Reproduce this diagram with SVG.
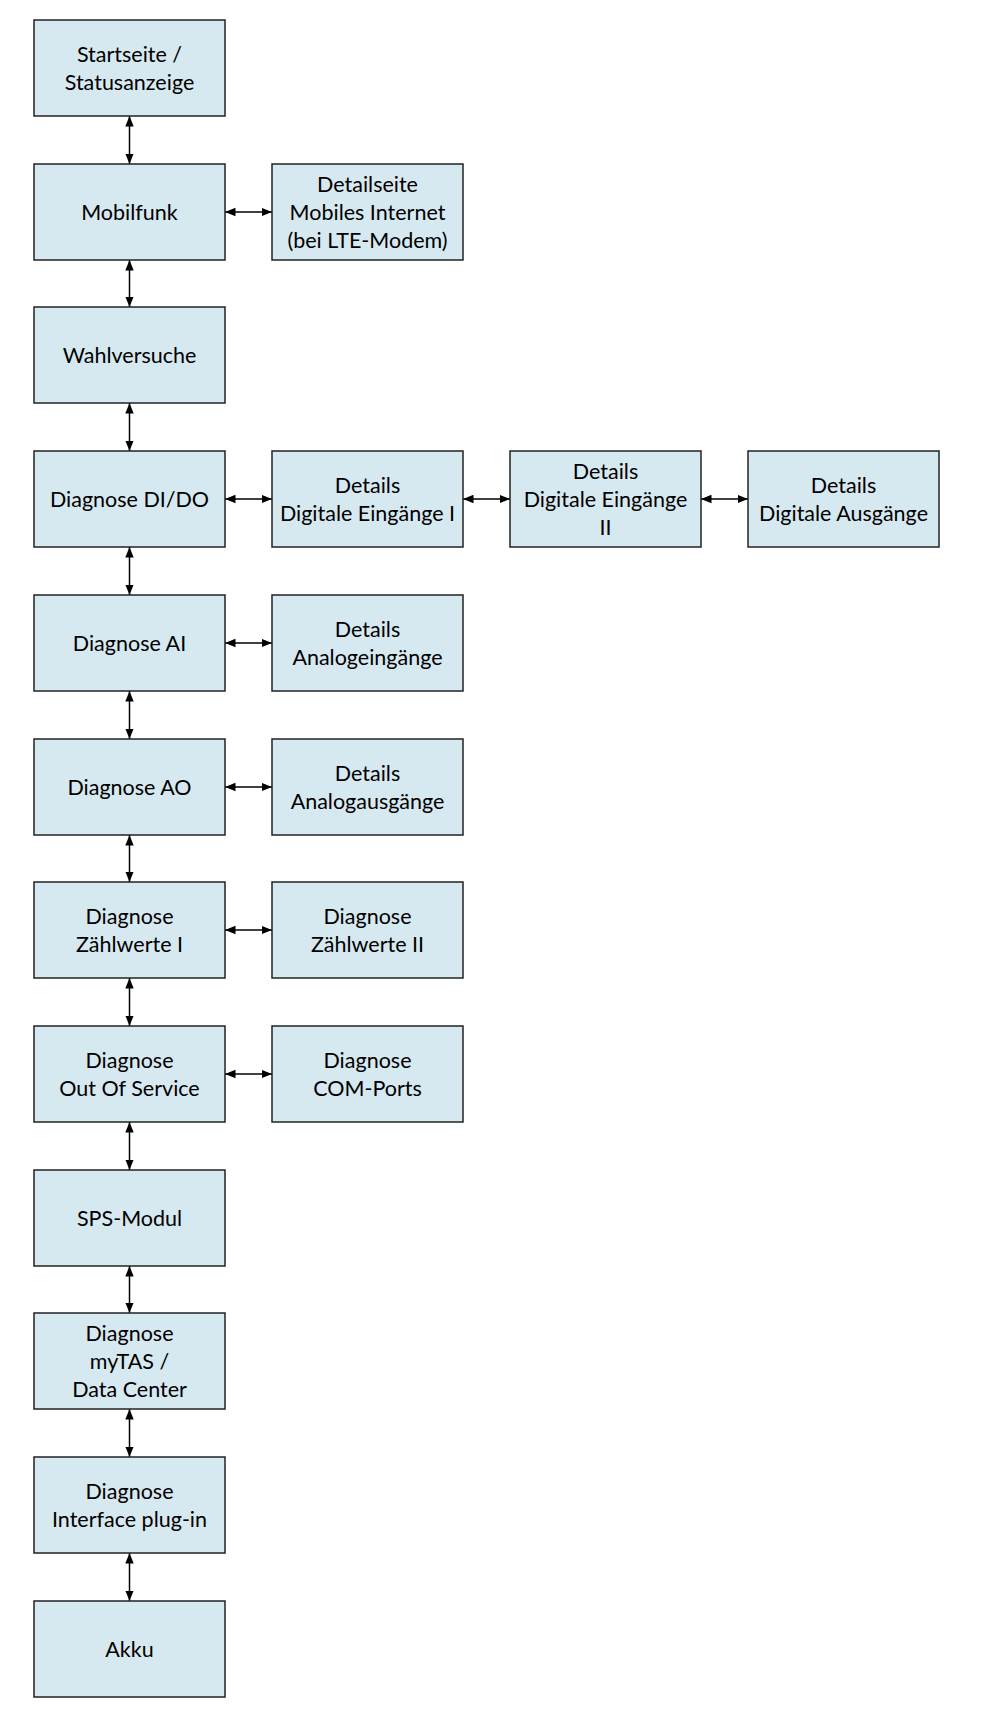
<svg xmlns="http://www.w3.org/2000/svg" width="1004" height="1718" viewBox="0 0 1004 1718">
<style>
.n rect{fill:#D7E9F0;stroke:#222;stroke-width:1.5}
.n text{font-family:Lato,"Liberation Sans",sans-serif;font-size:21.5px;fill:#000;text-anchor:middle}
.c line{stroke:#000;stroke-width:1.5;marker-start:url(#a);marker-end:url(#a)}
</style>
<defs>
<marker id="a" viewBox="0 0 10 10" refX="10" refY="5" markerWidth="7" markerHeight="7" orient="auto-start-reverse" markerUnits="strokeWidth"><path d="M0,1 L10,5 L0,9 Z" fill="#000"/></marker>
</defs>
<g class="c">
<line x1="129.5" y1="116" x2="129.5" y2="164"/>
<line x1="129.5" y1="260" x2="129.5" y2="307"/>
<line x1="129.5" y1="403" x2="129.5" y2="451"/>
<line x1="129.5" y1="547" x2="129.5" y2="595"/>
<line x1="129.5" y1="691" x2="129.5" y2="739"/>
<line x1="129.5" y1="835" x2="129.5" y2="882"/>
<line x1="129.5" y1="978" x2="129.5" y2="1026"/>
<line x1="129.5" y1="1122" x2="129.5" y2="1170"/>
<line x1="129.5" y1="1266" x2="129.5" y2="1313"/>
<line x1="129.5" y1="1409" x2="129.5" y2="1457"/>
<line x1="129.5" y1="1553" x2="129.5" y2="1601"/>
<line x1="225" y1="212" x2="272" y2="212"/>
<line x1="225" y1="499" x2="272" y2="499"/>
<line x1="463" y1="499" x2="510" y2="499"/>
<line x1="701" y1="499" x2="748" y2="499"/>
<line x1="225" y1="643" x2="272" y2="643"/>
<line x1="225" y1="787" x2="272" y2="787"/>
<line x1="225" y1="930" x2="272" y2="930"/>
<line x1="225" y1="1074" x2="272" y2="1074"/>
</g>
<g class="n" id="n1"><rect x="34" y="20" width="191" height="96"/><text x="129.5" y="62">Startseite /</text><text x="129.5" y="90">Statusanzeige</text></g>
<g class="n" id="n2"><rect x="34" y="164" width="191" height="96"/><text x="129.5" y="220">Mobilfunk</text></g>
<g class="n" id="n2b"><rect x="272" y="164" width="191" height="96"/><text x="367.5" y="192">Detailseite</text><text x="367.5" y="220">Mobiles Internet</text><text x="367.5" y="248">(bei LTE-Modem)</text></g>
<g class="n" id="n3"><rect x="34" y="307" width="191" height="96"/><text x="129.5" y="363">Wahlversuche</text></g>
<g class="n" id="n4"><rect x="34" y="451" width="191" height="96"/><text x="129.5" y="507">Diagnose DI/DO</text></g>
<g class="n" id="n4b"><rect x="272" y="451" width="191" height="96"/><text x="367.5" y="493">Details</text><text x="367.5" y="521">Digitale Eingänge I</text></g>
<g class="n" id="n4c"><rect x="510" y="451" width="191" height="96"/><text x="605.5" y="479">Details</text><text x="605.5" y="507">Digitale Eingänge</text><text x="605.5" y="535">II</text></g>
<g class="n" id="n4d"><rect x="748" y="451" width="191" height="96"/><text x="843.5" y="493">Details</text><text x="843.5" y="521">Digitale Ausgänge</text></g>
<g class="n" id="n5"><rect x="34" y="595" width="191" height="96"/><text x="129.5" y="651">Diagnose AI</text></g>
<g class="n" id="n5b"><rect x="272" y="595" width="191" height="96"/><text x="367.5" y="637">Details</text><text x="367.5" y="665">Analogeingänge</text></g>
<g class="n" id="n6"><rect x="34" y="739" width="191" height="96"/><text x="129.5" y="795">Diagnose AO</text></g>
<g class="n" id="n6b"><rect x="272" y="739" width="191" height="96"/><text x="367.5" y="781">Details</text><text x="367.5" y="809">Analogausgänge</text></g>
<g class="n" id="n7"><rect x="34" y="882" width="191" height="96"/><text x="129.5" y="924">Diagnose</text><text x="129.5" y="952">Zählwerte I</text></g>
<g class="n" id="n7b"><rect x="272" y="882" width="191" height="96"/><text x="367.5" y="924">Diagnose</text><text x="367.5" y="952">Zählwerte II</text></g>
<g class="n" id="n8"><rect x="34" y="1026" width="191" height="96"/><text x="129.5" y="1068">Diagnose</text><text x="129.5" y="1096">Out Of Service</text></g>
<g class="n" id="n8b"><rect x="272" y="1026" width="191" height="96"/><text x="367.5" y="1068">Diagnose</text><text x="367.5" y="1096">COM-Ports</text></g>
<g class="n" id="n9"><rect x="34" y="1170" width="191" height="96"/><text x="129.5" y="1226">SPS-Modul</text></g>
<g class="n" id="n10"><rect x="34" y="1313" width="191" height="96"/><text x="129.5" y="1341">Diagnose</text><text x="129.5" y="1369">myTAS /</text><text x="129.5" y="1397">Data Center</text></g>
<g class="n" id="n11"><rect x="34" y="1457" width="191" height="96"/><text x="129.5" y="1499">Diagnose</text><text x="129.5" y="1527">Interface plug-in</text></g>
<g class="n" id="n12"><rect x="34" y="1601" width="191" height="96"/><text x="129.5" y="1657">Akku</text></g>
</svg>
